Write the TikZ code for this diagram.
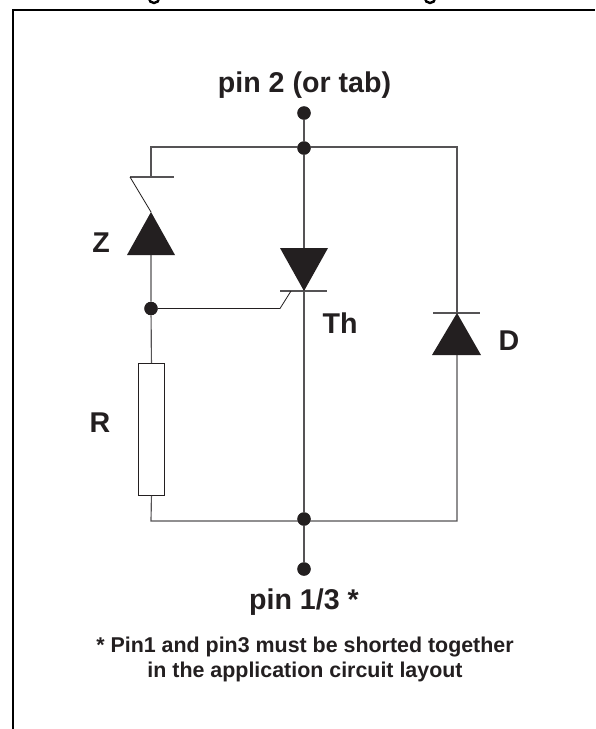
\documentclass[tikz,border=0pt]{standalone}
\usepackage{fontspec}
\setmainfont{Liberation Sans}
\definecolor{ink}{HTML}{231F20}
\definecolor{wire}{HTML}{555355}
\begin{document}
\begin{tikzpicture}[x=1pt,y=-1pt,
  dotnode/.style={circle,fill=ink,inner sep=0pt,minimum size=13.5pt},
  wireline/.style={draw=wire,line width=1.15pt},
  thinline/.style={draw=ink,line width=0.8pt},
  framerule/.style={draw=black,line width=2.6pt},
  solid tri/.style={fill=ink,draw=none},
  lab/.style={font=\bfseries\fontsize{28.6}{32}\selectfont,text=ink,inner sep=0pt},
  notelab/.style={font=\bfseries\fontsize{21.4}{25}\selectfont,text=ink,inner sep=0pt,align=center}]
\useasboundingbox (0,0) rectangle (595,729);
\fill[white] (0,0) rectangle (595,729);
% clipped title descenders
\begin{scope}
\clip (0,0) rectangle (595,5);
\draw[black,line width=2.4pt] (154,-2) ellipse (5.2pt and 5pt);
\draw[black,line width=2.4pt] (430,-2) ellipse (5.2pt and 5pt);
\end{scope}
% frame
\draw[framerule] (13,729) -- (13,10) -- (595,10);
% junctions and terminals
\node[dotnode] (top) at (304,113) {};
\node[dotnode] (jt) at (304,148) {};
\node[dotnode] (jb) at (304,519) {};
\node[dotnode] (bot) at (304,569) {};
\node[dotnode] (jg) at (151,308.5) {};
% corners
\coordinate (ctl) at (151,147);
\coordinate (ctr) at (457,147);
\coordinate (cbl) at (151,521);
\coordinate (cbr) at (457,521);
% Zener
\coordinate (zbar) at (151,177);
\coordinate (zbarl) at (130,177);
\coordinate (zbarr) at (174,177);
\coordinate (zapex) at (151,212);
\coordinate (zl) at (127,255);
\coordinate (zr) at (175,255);
\coordinate (zbase) at (151,255);
% Thyristor
\coordinate (thl) at (280,248);
\coordinate (thr) at (328,248);
\coordinate (thapex) at (304,291);
\coordinate (thbl) at (280,291);
\coordinate (thbr) at (327,291);
\coordinate (gk) at (280,308.5);
\coordinate (gt) at (291,291);
% Diode
\coordinate (dl) at (432,355);
\coordinate (dr) at (481,355);
\coordinate (dapex) at (457,313);
\coordinate (dbl) at (433,313);
\coordinate (dbr) at (480,313);
\coordinate (dtop) at (457,313);
\coordinate (dbase) at (457,355);
% Resistor
\node[draw=ink,line width=0.9pt,fill=white,minimum width=26pt,minimum height=132pt,inner sep=0pt,anchor=north west] (res) at (138,363) {};
% wires
\draw[wireline] (top) -- (jt) -- (jb) -- (bot);
\draw[wireline] (zbar) -- (ctl) -- (ctr) -- (dtop);
\draw[wireline] (dbase) -- (cbr) -- (cbl) -- (res.south);
\draw[wireline] (res.north) -- (jg) -- (zbase);
\draw[wireline] (zbarl) -- (zbarr);
\draw[thinline] (zbarl) -- (zapex);
\draw[wireline] (thbl) -- (thbr);
\draw[wireline] (dbl) -- (dbr);
\draw[thinline] (jg) -- (gk) -- (gt);
% triangles
\fill[solid tri] (zl) -- (zapex) -- (zr) -- cycle;
\fill[solid tri] (thl) -- (thr) -- (thapex) -- cycle;
\fill[solid tri] (dl) -- (dapex) -- (dr) -- cycle;
% redraw dots above wires
\foreach \n in {top,jt,jb,bot,jg}{\fill[ink] (\n) circle (6.5pt);}
% labels
\node[lab] (l1) at (304.5,85) {pin 2 (or tab)};
\node[lab] (l2) at (304,602.5) {pin 1/3 *};
\node[lab] (lz) at (101,243) {Z};
\node[lab] (lr) at (100,423) {R};
\node[lab] (lth) at (340,323.5) {Th};
\node[lab] (ld) at (509,341) {D};
\node[notelab] (note) at (305,659) {* Pin1 and pin3 must be shorted together\\in the application circuit layout};
\end{tikzpicture}
\end{document}
